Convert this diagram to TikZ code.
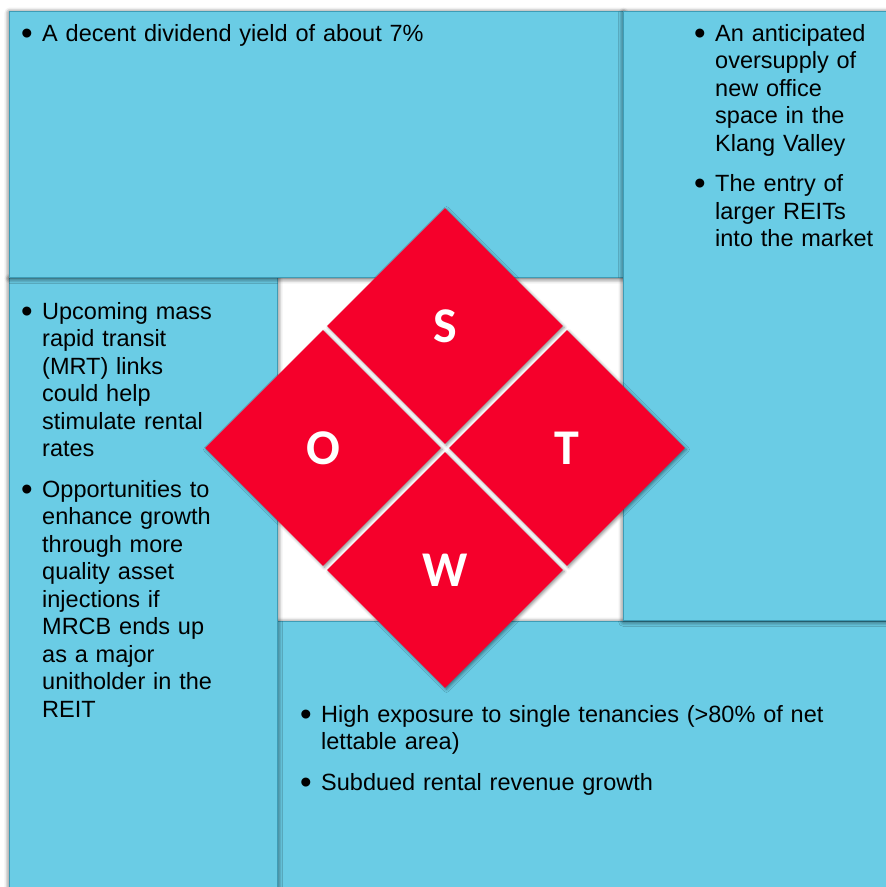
\documentclass[tikz,border=0pt]{standalone}
\usepackage{fontspec}
\setmainfont{Liberation Sans}
\newfontfamily\carlito{Carlito}
\usetikzlibrary{shapes, shapes.geometric, shadows.blur}

\definecolor{swotblue}{RGB}{106,204,229}
\definecolor{swotedge}{RGB}{62,156,182}
\definecolor{swotred}{RGB}{245,0,43}

\newcommand{\bigbullet}{\raisebox{-3.2pt}{\fontsize{33}{33}\selectfont\textbullet}}
\newenvironment{bulletlist}{%
    \begin{list}{\bigbullet}{%
        \setlength{\leftmargin}{21pt}\setlength{\labelwidth}{21pt}%
        \setlength{\labelsep}{0pt}\setlength{\itemsep}{13pt}%
        \setlength{\parsep}{0pt}\setlength{\topsep}{0pt}%
        \def\makelabel##1{##1\hfil}}}%
    {\end{list}}

\tikzset{
    swotbox/.style={rectangle, fill=swotblue, draw=swotedge, line width=1pt,
        inner sep=0, anchor=north west,
        blur shadow={shadow xshift=0pt, shadow yshift=-1pt,
            shadow blur radius=5pt, shadow opacity=80}},
    swottext/.style={anchor=base west, inner sep=0, align=left,
        font=\fontsize{23.5}{27.5}\selectfont},
    quad/.style={diamond, aspect=1, fill=swotred, inner sep=0,
        minimum width=236pt, minimum height=236pt, text=white,
        font=\carlito\bfseries\fontsize{50}{50}\selectfont,
        blur shadow={shadow xshift=1.5pt, shadow yshift=-1.5pt,
            shadow blur radius=3pt, shadow opacity=45}}
}

\begin{document}
\begin{tikzpicture}[x=1pt, y=-1pt]
    \useasboundingbox (0,0) rectangle (886,887);

    % quadrants, drawn as a pinwheel
    \node[swotbox, minimum width=613pt, minimum height=271pt] (wbox) at (277,621) {};
    \node[swotbox, minimum width=268pt, minimum height=615pt] (obox) at (9,277) {};
    \node[swotbox, minimum width=614pt, minimum height=266pt] (sbox) at (9,11) {};
    \node[swotbox, minimum width=267pt, minimum height=609pt] (tbox) at (623,11) {};

    \node[swottext, text width=500pt] (stext) at ([shift={(12,2.5)}]sbox.north west)
        {\begin{bulletlist}
            \item A decent dividend yield of about 7\%
        \end{bulletlist}};

    \node[swottext, text width=190pt] (ttext) at ([shift={(71,2.5)}]tbox.north west)
        {\begin{bulletlist}
            \item An anticipated\newline oversupply of\newline new office\newline space in the\newline Klang Valley
            \item The entry of\newline larger REITs\newline into the market
        \end{bulletlist}};

    \node[swottext, text width=250pt] (otext) at ([shift={(12,14.5)}]obox.north west)
        {\begin{bulletlist}
            \item Upcoming mass\newline rapid transit\newline (MRT) links\newline could help\newline stimulate rental\newline rates
            \item Opportunities to\newline enhance growth\newline through more\newline quality asset\newline injections if\newline MRCB ends up\newline as a major\newline unitholder in the\newline REIT
        \end{bulletlist}};

    \node[swottext, text width=570pt] (wtext) at ([shift={(23,73.5)}]wbox.north west)
        {\begin{bulletlist}
            \item High exposure to single tenancies (>80\% of net\newline lettable area)
            \item Subdued rental revenue growth
        \end{bulletlist}};

    % the SWOT diamond
    \coordinate (mid) at (445,448);
    \node[quad] (W) at ([shift={(0,122)}]mid) {W};
    \node[quad] (T) at ([shift={(122,0)}]mid) {T};
    \node[quad] (O) at ([shift={(-122,0)}]mid) {O};
    \node[quad] (S) at ([shift={(0,-122)}]mid) {S};
\end{tikzpicture}
\end{document}
